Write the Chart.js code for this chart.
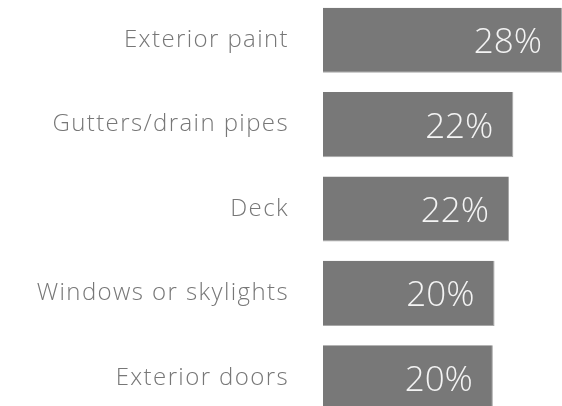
<!DOCTYPE html>
<html>
<head>
<meta charset="utf-8">
<script src="https://cdn.jsdelivr.net/npm/chart.js@4/dist/chart.umd.min.js"></script>
<style>
html,body{margin:0;padding:0;background:#fff;overflow:hidden;width:562px;height:406px;}
#c{position:absolute;left:0;top:-2px;}
</style>
</head>
<body>
<canvas id="c" width="562" height="422" style="width:562px;height:422px;"></canvas>
<script>
const categories = ["Exterior paint", "Gutters/drain pipes", "Deck", "Windows or skylights", "Exterior doors"];
const values = [28, 22.3, 21.8, 20.1, 19.9];
const valueLabels = ["28%", "22%", "22%", "20%", "20%"];

const FONT = "'Open Sans', Lato, sans-serif";

const spacingPlugin = {
  id: 'spacing',
  beforeDraw(chart) { chart.ctx.letterSpacing = '1.4px'; }
};

const valueLabelPlugin = {
  id: 'valueLabels',
  afterDatasetsDraw(chart) {
    const ctx = chart.ctx;
    const meta = chart.getDatasetMeta(0);
    ctx.save();
    ctx.letterSpacing = '0px';
    ctx.font = "300 35px " + FONT;
    ctx.fillStyle = "#f4f4f4";
    ctx.textAlign = "right";
    ctx.textBaseline = "middle";
    meta.data.forEach((bar, i) => {
      ctx.fillText(valueLabels[i], bar.x - 20, bar.y + 3);
    });
    ctx.restore();
  }
};

new Chart(document.getElementById('c'), {
  type: 'bar',
  data: {
    labels: categories,
    datasets: [{
      data: values,
      backgroundColor: '#787878',
      borderColor: '#a8a8a8',
      borderWidth: {top: 0, left: 0, right: 1, bottom: 1},
      borderSkipped: 'left',
      categoryPercentage: 1,
      barPercentage: 0.771
    }]
  },
  options: {
    indexAxis: 'y',
    responsive: false,
    maintainAspectRatio: false,
    devicePixelRatio: 1,
    animation: false,
    layout: {padding: 0},
    plugins: {legend: {display: false}, tooltip: {enabled: false}},
    scales: {
      x: {
        display: false,
        min: 0,
        max: 28
      },
      y: {
        grid: {display: true, drawOnChartArea: false, drawTicks: true, tickLength: 34, color: 'rgba(0,0,0,0)'},
        border: {display: false},
        ticks: {
          color: '#777777',
          font: {family: FONT, size: 24, weight: '300'},
          padding: 0
        },
        afterFit(scale) { scale.width = 323; scale.paddingTop = 0; scale.paddingBottom = 0; }
      }
    }
  },
  plugins: [spacingPlugin, valueLabelPlugin]
});
</script>
</body>
</html>
